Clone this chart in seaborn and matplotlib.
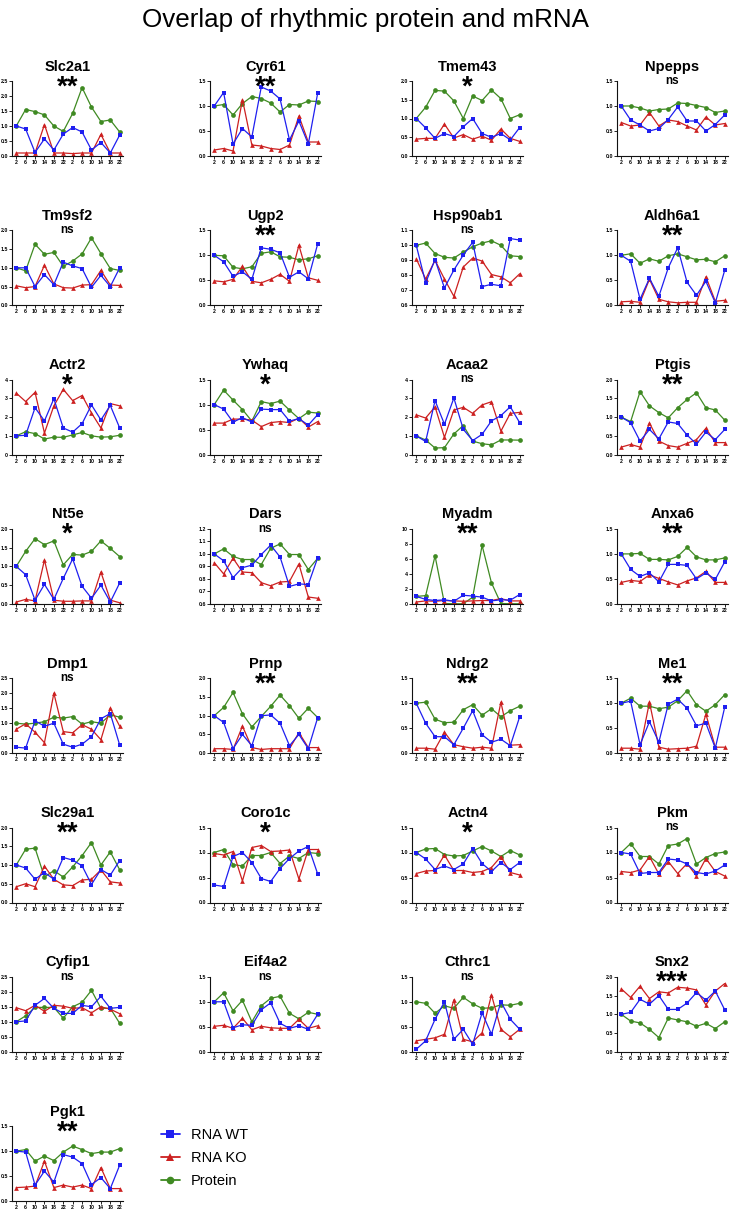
import numpy as np
import pandas as pd
import matplotlib
matplotlib.use("Agg")
import matplotlib.pyplot as plt
import seaborn as sns
from matplotlib.lines import Line2D
from matplotlib.ticker import FormatStrFormatter

# ---------------- data ----------------
timepoints = ["2", "6", "10", "14", "18", "22", "2", "6", "10", "14", "18", "22"]

genes = ["Slc2a1", "Cyr61", "Tmem43", "Npepps",
         "Tm9sf2", "Ugp2", "Hsp90ab1", "Aldh6a1",
         "Actr2", "Ywhaq", "Acaa2", "Ptgis",
         "Nt5e", "Dars", "Myadm", "Anxa6",
         "Dmp1", "Prnp", "Ndrg2", "Me1",
         "Slc29a1", "Coro1c", "Actn4", "Pkm",
         "Cyfip1", "Eif4a2", "Cthrc1", "Snx2",
         "Pgk1"]

significance = ["**", "**", "*", "ns",
                "ns", "**", "ns", "**",
                "*", "*", "ns", "**",
                "*", "ns", "**", "**",
                "ns", "**", "**", "**",
                "**", "*", "*", "ns",
                "ns", "ns", "ns", "***",
                "**"]

# y axis range (min, max, tick step)
y_range = {
    "Slc2a1": (0, 2.5, 0.5), "Cyr61": (0, 1.5, 0.5), "Tmem43": (0, 2.0, 0.5), "Npepps": (0, 1.5, 0.5),
    "Tm9sf2": (0, 2.0, 0.5), "Ugp2": (0, 1.5, 0.5), "Hsp90ab1": (0.6, 1.1, 0.1), "Aldh6a1": (0, 1.5, 0.5),
    "Actr2": (0, 4, 1), "Ywhaq": (0, 1.5, 0.5), "Acaa2": (0, 4, 1), "Ptgis": (0, 2.0, 0.5),
    "Nt5e": (0, 2.0, 0.5), "Dars": (0.6, 1.2, 0.1), "Myadm": (0, 10, 2), "Anxa6": (0, 1.5, 0.5),
    "Dmp1": (0, 2.5, 0.5), "Prnp": (0, 2.0, 0.5), "Ndrg2": (0, 1.5, 0.5), "Me1": (0, 1.5, 0.5),
    "Slc29a1": (0, 2.0, 0.5), "Coro1c": (0, 1.5, 0.5), "Actn4": (0, 1.5, 0.5), "Pkm": (0, 1.5, 0.5),
    "Cyfip1": (0, 2.5, 0.5), "Eif4a2": (0, 1.5, 0.5), "Cthrc1": (0, 1.5, 0.5), "Snx2": (0, 2.0, 0.5),
    "Pgk1": (0, 1.5, 0.5),
}

rna_wt = {
    "Slc2a1": [1.0, 0.9, 0.12, 0.57, 0.2, 0.73, 0.95, 0.8, 0.2, 0.45, 0.1, 0.7],
    "Cyr61": [1.0, 1.27, 0.24, 0.55, 0.38, 1.38, 1.3, 1.14, 0.32, 0.7, 0.24, 1.26],
    "Tmem43": [1.0, 0.75, 0.47, 0.6, 0.52, 0.78, 1.0, 0.6, 0.5, 0.6, 0.43, 0.76],
    "Npepps": [1.0, 0.72, 0.62, 0.5, 0.55, 0.73, 0.98, 0.7, 0.7, 0.5, 0.63, 0.82],
    "Tm9sf2": [1.0, 1.0, 0.5, 0.82, 0.55, 1.15, 1.05, 0.98, 0.48, 0.8, 0.5, 1.0],
    "Ugp2": [1.0, 0.87, 0.58, 0.67, 0.52, 1.15, 1.12, 1.05, 0.56, 0.67, 0.53, 1.23],
    "Hsp90ab1": [1.0, 0.75, 0.905, 0.715, 0.835, 0.935, 1.02, 0.725, 0.74, 0.73, 1.045, 1.035],
    "Aldh6a1": [1.0, 0.88, 0.12, 0.54, 0.18, 0.75, 1.15, 0.46, 0.2, 0.48, 0.05, 0.7],
    "Actr2": [1.0, 1.03, 2.5, 1.8, 2.98, 1.42, 1.2, 1.65, 2.65, 1.85, 2.62, 1.42],
    "Ywhaq": [1.0, 0.91, 0.65, 0.74, 0.65, 0.91, 0.9, 0.9, 0.67, 0.72, 0.59, 0.8],
    "Acaa2": [1.0, 0.7, 2.88, 1.62, 3.02, 1.35, 0.75, 1.08, 1.8, 2.08, 2.55, 1.7],
    "Ptgis": [1.0, 0.85, 0.36, 0.67, 0.42, 0.87, 0.83, 0.52, 0.28, 0.6, 0.4, 0.67],
    "Nt5e": [1.0, 0.78, 0.1, 0.52, 0.12, 0.68, 1.2, 0.47, 0.15, 0.5, 0.05, 0.56],
    "Dars": [1.0, 0.945, 0.81, 0.89, 0.91, 0.995, 1.07, 0.975, 0.74, 0.76, 0.755, 0.97],
    "Myadm": [1.0, 0.6, 0.45, 0.55, 0.35, 1.15, 1.05, 0.9, 0.4, 0.55, 0.5, 1.25],
    "Anxa6": [1.0, 0.69, 0.55, 0.62, 0.44, 0.79, 0.79, 0.77, 0.5, 0.62, 0.49, 0.84],
    "Dmp1": [0.2, 0.17, 1.08, 0.9, 1.0, 0.3, 0.2, 0.3, 0.55, 1.15, 1.32, 0.27],
    "Prnp": [1.0, 0.82, 0.12, 0.5, 0.2, 1.0, 1.02, 0.8, 0.2, 0.5, 0.12, 0.95],
    "Ndrg2": [1.0, 0.6, 0.33, 0.33, 0.17, 0.5, 0.85, 0.37, 0.22, 0.28, 0.15, 0.73],
    "Me1": [1.0, 1.04, 0.17, 0.63, 0.22, 0.98, 1.08, 0.9, 0.55, 0.6, 0.1, 0.92],
    "Slc29a1": [1.0, 0.92, 0.62, 0.8, 0.62, 1.2, 1.13, 0.98, 0.48, 0.88, 0.73, 1.12],
    "Coro1c": [0.35, 0.32, 0.92, 1.0, 0.8, 0.48, 0.42, 0.68, 0.88, 1.03, 1.12, 0.57],
    "Actn4": [1.0, 0.87, 0.66, 0.73, 0.66, 0.77, 1.08, 0.78, 0.62, 0.8, 0.66, 0.8],
    "Pkm": [1.0, 0.97, 0.58, 0.6, 0.6, 0.87, 0.85, 0.77, 0.6, 0.57, 0.63, 0.75],
    "Cyfip1": [1.0, 1.03, 1.55, 1.78, 1.45, 1.28, 1.28, 1.55, 1.5, 1.85, 1.45, 1.48],
    "Eif4a2": [1.0, 1.0, 0.48, 0.54, 0.53, 0.84, 0.98, 0.57, 0.47, 0.52, 0.45, 0.75],
    "Cthrc1": [0.05, 0.22, 0.65, 1.0, 0.25, 0.45, 0.15, 0.78, 0.35, 1.0, 0.65, 0.45],
    "Snx2": [1.0, 1.05, 1.4, 1.27, 1.5, 1.13, 1.13, 1.3, 1.58, 1.38, 1.62, 1.12],
    "Pgk1": [1.0, 0.98, 0.32, 0.6, 0.38, 0.93, 0.88, 0.75, 0.33, 0.47, 0.25, 0.72],
}

rna_ko = {
    "Slc2a1": [0.1, 0.1, 0.1, 1.05, 0.1, 0.1, 0.08, 0.1, 0.1, 0.72, 0.1, 0.1],
    "Cyr61": [0.12, 0.15, 0.1, 1.13, 0.22, 0.2, 0.15, 0.13, 0.22, 0.8, 0.28, 0.28],
    "Tmem43": [0.45, 0.47, 0.47, 0.85, 0.48, 0.57, 0.45, 0.53, 0.42, 0.72, 0.47, 0.39],
    "Npepps": [0.67, 0.6, 0.62, 0.87, 0.6, 0.72, 0.69, 0.6, 0.52, 0.78, 0.62, 0.65],
    "Tm9sf2": [0.52, 0.47, 0.5, 1.07, 0.57, 0.47, 0.46, 0.54, 0.55, 0.93, 0.54, 0.53],
    "Ugp2": [0.49, 0.47, 0.52, 0.78, 0.48, 0.45, 0.52, 0.62, 0.48, 1.2, 0.55, 0.5],
    "Hsp90ab1": [0.91, 0.775, 0.9, 0.775, 0.66, 0.855, 0.915, 0.895, 0.805, 0.79, 0.75, 0.81],
    "Aldh6a1": [0.07, 0.08, 0.06, 0.52, 0.12, 0.07, 0.05, 0.06, 0.06, 0.57, 0.08, 0.1],
    "Actr2": [3.28, 2.83, 3.32, 1.15, 2.6, 3.48, 2.88, 3.15, 2.22, 1.42, 2.72, 2.6],
    "Ywhaq": [0.63, 0.63, 0.71, 0.71, 0.69, 0.56, 0.64, 0.66, 0.64, 0.73, 0.55, 0.66],
    "Acaa2": [2.12, 1.95, 2.55, 0.92, 2.38, 2.52, 2.2, 2.65, 2.82, 1.25, 2.2, 2.25],
    "Ptgis": [0.2, 0.27, 0.2, 0.84, 0.36, 0.24, 0.2, 0.3, 0.4, 0.7, 0.32, 0.32],
    "Nt5e": [0.05, 0.12, 0.08, 1.17, 0.1, 0.07, 0.07, 0.08, 0.08, 0.85, 0.1, 0.03],
    "Dars": [0.93, 0.84, 0.965, 0.855, 0.85, 0.77, 0.745, 0.775, 0.78, 0.92, 0.655, 0.645],
    "Myadm": [0.25, 0.4, 0.35, 0.45, 0.4, 0.35, 0.4, 0.45, 0.45, 0.7, 0.4, 0.4],
    "Anxa6": [0.43, 0.47, 0.45, 0.58, 0.51, 0.44, 0.38, 0.46, 0.52, 0.65, 0.43, 0.43],
    "Dmp1": [0.8, 0.98, 0.7, 0.35, 2.0, 0.72, 0.68, 0.95, 0.8, 0.45, 1.5, 0.9],
    "Prnp": [0.12, 0.12, 0.1, 0.72, 0.15, 0.1, 0.12, 0.12, 0.12, 0.55, 0.15, 0.15],
    "Ndrg2": [0.1, 0.1, 0.08, 0.42, 0.17, 0.13, 0.1, 0.12, 0.1, 1.02, 0.16, 0.17],
    "Me1": [0.1, 0.1, 0.08, 1.02, 0.12, 0.08, 0.09, 0.1, 0.14, 0.78, 0.12, 0.12],
    "Slc29a1": [0.42, 0.5, 0.42, 0.97, 0.62, 0.47, 0.45, 0.6, 0.62, 0.87, 0.55, 0.52],
    "Coro1c": [0.98, 0.95, 1.02, 0.43, 1.1, 1.14, 1.02, 1.03, 1.05, 0.47, 1.06, 1.06],
    "Actn4": [0.58, 0.63, 0.64, 0.95, 0.64, 0.64, 0.6, 0.62, 0.7, 0.92, 0.6, 0.55],
    "Pkm": [0.62, 0.6, 0.65, 0.92, 0.57, 0.82, 0.58, 0.78, 0.53, 0.88, 0.62, 0.53],
    "Cyfip1": [1.47, 1.37, 1.55, 1.35, 1.55, 1.52, 1.45, 1.47, 1.3, 1.5, 1.42, 1.27],
    "Eif4a2": [0.51, 0.53, 0.47, 0.67, 0.44, 0.51, 0.48, 0.47, 0.47, 0.65, 0.47, 0.52],
    "Cthrc1": [0.22, 0.25, 0.28, 0.35, 1.04, 0.25, 0.2, 0.38, 1.14, 0.45, 0.3, 0.45],
    "Snx2": [1.68, 1.45, 1.75, 1.42, 1.6, 1.57, 1.72, 1.7, 1.65, 1.25, 1.62, 1.82],
    "Pgk1": [0.27, 0.28, 0.3, 0.8, 0.27, 0.32, 0.28, 0.32, 0.25, 0.67, 0.25, 0.25],
}

protein = {
    "Slc2a1": [1.0, 1.55, 1.48, 1.37, 1.0, 0.82, 1.42, 2.28, 1.63, 1.15, 1.2, 0.8],
    "Cyr61": [1.0, 1.03, 0.82, 1.05, 1.19, 1.15, 1.06, 0.88, 1.03, 1.02, 1.1, 1.09],
    "Tmem43": [1.0, 1.3, 1.75, 1.73, 1.47, 1.0, 1.6, 1.48, 1.76, 1.53, 1.0, 1.1],
    "Npepps": [1.0, 1.0, 0.96, 0.9, 0.93, 0.94, 1.06, 1.05, 1.01, 0.97, 0.87, 0.9],
    "Tm9sf2": [1.0, 0.92, 1.63, 1.36, 1.41, 1.04, 1.18, 1.37, 1.8, 1.38, 0.98, 0.93],
    "Ugp2": [1.0, 0.99, 0.76, 0.73, 0.77, 1.04, 1.07, 0.97, 0.96, 0.91, 0.93, 0.99],
    "Hsp90ab1": [1.0, 1.015, 0.945, 0.92, 0.915, 0.955, 0.99, 1.015, 1.03, 1.0, 0.93, 0.925],
    "Aldh6a1": [1.0, 1.03, 0.84, 0.93, 0.88, 0.99, 1.03, 0.97, 0.91, 0.92, 0.87, 0.99],
    "Actr2": [1.0, 1.22, 1.12, 0.83, 0.93, 0.92, 1.05, 1.18, 1.0, 0.93, 0.95, 1.03],
    "Ywhaq": [1.0, 1.29, 1.09, 0.9, 0.67, 1.06, 1.02, 1.07, 0.89, 0.72, 0.85, 0.83],
    "Acaa2": [1.0, 0.78, 0.35, 0.37, 1.1, 1.55, 0.72, 0.58, 0.52, 0.78, 0.78, 0.77],
    "Ptgis": [1.0, 0.88, 1.68, 1.3, 1.12, 0.98, 1.25, 1.47, 1.65, 1.25, 1.19, 0.92],
    "Nt5e": [1.0, 1.4, 1.74, 1.58, 1.68, 1.04, 1.32, 1.3, 1.4, 1.68, 1.48, 1.26],
    "Dars": [1.0, 1.04, 0.98, 0.955, 0.955, 0.915, 1.045, 1.08, 0.995, 0.995, 0.875, 0.965],
    "Myadm": [1.0, 1.1, 6.4, 0.05, 0.02, 0.02, 0.9, 7.8, 2.8, 0.05, 0.02, 0.02],
    "Anxa6": [1.0, 1.0, 1.01, 0.89, 0.89, 0.88, 0.95, 1.13, 0.94, 0.88, 0.88, 0.92],
    "Dmp1": [1.0, 0.97, 1.0, 1.05, 1.2, 1.17, 1.22, 0.97, 1.05, 1.0, 1.28, 1.2],
    "Prnp": [1.0, 1.22, 1.62, 1.05, 0.7, 0.98, 1.25, 1.55, 1.27, 0.93, 1.2, 0.95],
    "Ndrg2": [1.0, 1.02, 0.68, 0.61, 0.62, 0.87, 0.97, 0.76, 0.89, 0.73, 0.85, 0.94],
    "Me1": [1.0, 1.1, 0.94, 0.94, 0.89, 0.92, 1.05, 1.25, 0.97, 0.84, 0.97, 1.17],
    "Slc29a1": [1.0, 1.42, 1.45, 0.68, 0.85, 0.68, 0.95, 1.25, 1.6, 1.0, 1.35, 0.87],
    "Coro1c": [1.0, 1.06, 0.76, 0.73, 0.94, 0.94, 1.0, 0.78, 0.93, 0.88, 1.0, 0.98],
    "Actn4": [1.0, 1.07, 1.08, 0.96, 0.93, 0.94, 1.03, 1.12, 1.03, 0.92, 1.04, 0.95],
    "Pkm": [1.0, 1.18, 0.92, 0.92, 0.77, 1.14, 1.17, 1.28, 0.77, 0.9, 0.98, 1.01],
    "Cyfip1": [1.0, 1.2, 1.48, 1.48, 1.48, 1.12, 1.5, 1.65, 2.05, 1.45, 1.45, 0.95],
    "Eif4a2": [1.0, 1.18, 0.82, 1.03, 0.6, 0.92, 1.07, 1.11, 0.77, 0.66, 0.79, 0.75],
    "Cthrc1": [1.0, 0.97, 0.77, 0.92, 0.87, 1.09, 0.96, 0.87, 0.88, 0.94, 0.93, 0.97],
    "Snx2": [1.0, 0.82, 0.77, 0.6, 0.38, 0.9, 0.85, 0.8, 0.68, 0.76, 0.62, 0.8],
    "Pgk1": [1.0, 1.03, 0.8, 0.9, 0.81, 0.98, 1.1, 1.03, 0.95, 0.98, 0.98, 1.05],
}

series_names = ["RNA WT", "RNA KO", "Protein"]

# ---------------- style ----------------
sns.set_theme(style="ticks")
plt.rcParams["font.family"] = ["Liberation Sans", "DejaVu Sans"]
plt.rcParams["text.color"] = "black"
plt.rcParams["axes.edgecolor"] = "black"
plt.rcParams["xtick.color"] = "black"
plt.rcParams["ytick.color"] = "black"

colors = {"RNA WT": "#1f1ff0", "RNA KO": "#cc2020", "Protein": "#3f8a22"}
markers = {"RNA WT": "s", "RNA KO": "^", "Protein": "o"}

W, H = 731, 1211
fig = plt.figure(figsize=(W / 100, H / 100), dpi=100)

col_x = [12, 210, 412, 617]
ax_w, ax_h = 111, 75
row_top0, pitch = 81, 149.3

for i, g in enumerate(genes):
    r, c = divmod(i, 4)
    top = row_top0 + r * pitch
    ax = fig.add_axes([col_x[c] / W, 1 - (top + ax_h) / H, ax_w / W, ax_h / H])
    n = len(timepoints)
    df = pd.DataFrame({
        "x": np.tile(np.arange(n), 3),
        "value": rna_wt[g] + rna_ko[g] + protein[g],
        "series": np.repeat(series_names, n),
    })
    sns.lineplot(data=df, x="x", y="value", hue="series", style="series",
                 hue_order=["Protein", "RNA KO", "RNA WT"],
                 style_order=["Protein", "RNA KO", "RNA WT"],
                 palette=colors, markers=markers, dashes=False,
                 linewidth=0.9, markersize=3.4, markeredgewidth=0,
                 legend=False, ax=ax, errorbar=None)
    lo, hi, step = y_range[g]
    ax.set_xlim(-0.45, 11.35)
    ax.set_ylim(lo, hi)
    ax.set_xticks(np.arange(n))
    ax.set_xticklabels(timepoints)
    ax.set_yticks(np.arange(lo, hi + step / 2, step))
    ax.yaxis.set_major_formatter(FormatStrFormatter("%d" if step >= 1 else "%.1f"))
    ax.set_xlabel("")
    ax.set_ylabel("")
    sns.despine(ax=ax)
    for s in ("left", "bottom"):
        ax.spines[s].set_linewidth(0.8)
        ax.spines[s].set_color("#111111")
    ax.tick_params(axis="both", length=2, width=0.6, labelsize=3.8, pad=1, colors="black")
    for lbl in ax.get_xticklabels() + ax.get_yticklabels():
        lbl.set_fontweight("bold")
    ax.annotate(g, xy=(0.5, 1), xycoords="axes fraction", xytext=(0, 7.5),
                textcoords="offset points", ha="center", va="baseline",
                fontsize=10.5, fontweight="bold", color="black")
    sig = significance[i]
    if sig == "ns":
        ax.annotate(sig, xy=(0.5, 1), xycoords="axes fraction", xytext=(0, -2.0),
                    textcoords="offset points", ha="center", va="baseline",
                    fontsize=8.5, fontweight="bold", color="black")
    else:
        ax.annotate(sig, xy=(0.5, 1), xycoords="axes fraction", xytext=(0, -9.5),
                    textcoords="offset points", ha="center", va="baseline",
                    fontsize=20, fontweight="bold", color="black")

fig.text(0.5, 1 - 20 / H, "Overlap of rhythmic protein and mRNA",
         ha="center", va="center", fontsize=18.7, color="black")

handles = [Line2D([0], [0], color=colors[s], marker=markers[s], lw=1.3,
                  markersize=5.5, markeredgewidth=0) for s in series_names]
fig.legend(handles=handles, labels=series_names, loc="center left",
           bbox_to_anchor=(161 / W, 1 - 1158 / H), frameon=False,
           fontsize=10.5, handlelength=1.3, handletextpad=0.75,
           labelspacing=0.6, borderpad=0, borderaxespad=0)

fig.savefig("out.png", dpi=100)
